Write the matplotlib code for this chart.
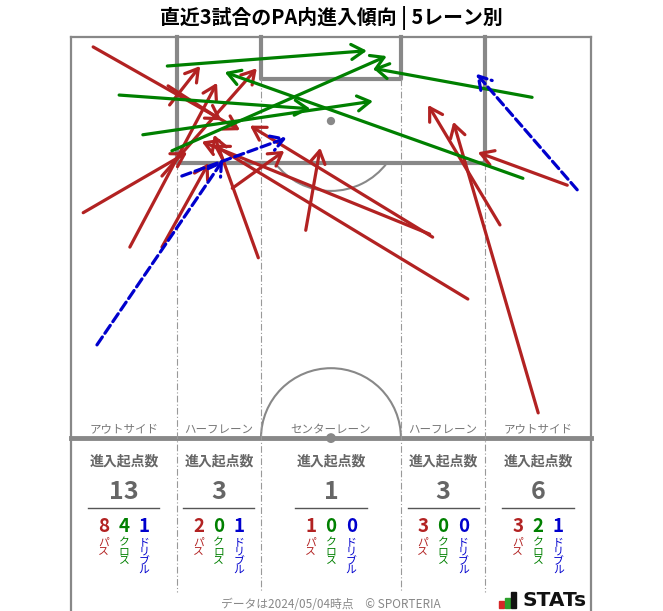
import matplotlib.pyplot as plt
from matplotlib.patches import FancyArrowPatch, Arc, Rectangle, Circle

plt.rcParams['font.family'] = ['Noto Sans CJK JP', 'DejaVu Sans']

# pitch coords in metres: x across (0-68), y down from goal line (0) to halfway (52.5)
pass_x0 = [2.9, 12.7, 7.7, 1.6, 11.9, 12.9, 11.9, 21.1, 24.5, 30.7, 47.3, 46.9, 51.9, 61.1, 56.1, 64.9]
pass_y0 = [1.3, 6.4, 27.5, 23.0, 27.5, 8.9, 18.2, 19.8, 28.9, 25.3, 26.2, 25.8, 34.3, 49.2, 24.6, 19.4]
pass_x1 = [22.1, 19.7, 19.1, 15.2, 18.0, 16.9, 24.3, 27.9, 18.7, 32.6, 23.4, 17.1, 18.6, 50.0, 46.7, 53.2]
pass_y1 = [12.2, 10.9, 6.0, 15.1, 16.5, 3.8, 4.1, 14.9, 12.8, 14.5, 11.6, 13.7, 14.1, 11.1, 8.9, 15.1]

cross_x0 = [12.6, 6.3, 9.4, 13.2, 60.3, 59.1]
cross_y0 = [3.8, 7.6, 12.8, 14.9, 7.9, 18.5]
cross_x1 = [38.7, 31.3, 39.5, 41.3, 39.5, 20.1]
cross_y1 = [1.8, 9.4, 8.4, 2.5, 4.1, 4.6]

dribble_x0 = [3.4, 14.5, 66.2]
dribble_y0 = [40.3, 18.2, 20.0]
dribble_x1 = [19.9, 28.2, 53.0]
dribble_y1 = [16.1, 13.2, 4.8]

lane_names = ["アウトサイド", "ハーフレーン", "センターレーン", "ハーフレーン", "アウトサイド"]
lane_edges = [0, 13.84, 24.84, 43.16, 54.16, 68]
lane_total = [13, 3, 1, 3, 6]
lane_pass = [8, 2, 1, 3, 3]
lane_cross = [4, 0, 0, 0, 2]
lane_dribble = [1, 1, 0, 0, 1]

RED = "#b22222"
GREEN = "#008000"
BLUE = "#0000cd"
LINE = "#888888"

fig = plt.figure(figsize=(6.63, 6.11), dpi=100)
ax = fig.add_axes([0, 0, 1, 1])
ax.set_xlim(-9.28, 77.42)
ax.set_ylim(75.13, -4.84)
ax.axis("off")

# pitch
bottom = 75.13
ax.plot([0, 0], [0, bottom], color=LINE, lw=1.6, zorder=1)
ax.plot([68, 68], [0, bottom], color=LINE, lw=1.6, zorder=1)
ax.plot([0, 68], [0, 0], color=LINE, lw=1.6, zorder=1)
ax.plot([0, 68], [52.5, 52.5], color=LINE, lw=3.5, zorder=1)
ax.plot([13.84, 13.84, 54.16, 54.16], [0, 16.5, 16.5, 0], color=LINE, lw=3, zorder=1)
ax.plot([24.84, 24.84, 43.16, 43.16], [0, 5.5, 5.5, 0], color=LINE, lw=3, zorder=1)
ax.add_patch(Arc((34, 11), 18.3, 18.3, theta1=37, theta2=143, color=LINE, lw=1.5, zorder=1))
ax.add_patch(Arc((34, 52.5), 18.3, 18.3, theta1=180, theta2=360, color=LINE, lw=1.5, zorder=1))
ax.add_patch(Circle((34, 11), 0.45, color=LINE, zorder=1))
ax.add_patch(Circle((34, 52.5), 0.55, color=LINE, zorder=1))

# lane lines
for x in lane_edges[1:-1]:
    top = 5.5 if x in (24.84, 43.16) else 16.5
    ax.plot([x, x], [top, 72.6], color="#999999", lw=0.8, ls=(0, (6, 2, 1, 2)), zorder=1)

for i, name in enumerate(lane_names):
    cx = (lane_edges[i] + lane_edges[i + 1]) / 2
    ax.text(cx, 51.3, name, ha="center", va="center", fontsize=8.3, color="#777777")


def draw_arrows(x0, y0, x1, y1, color, ls="-"):
    for a, b, c, d in zip(x0, y0, x1, y1):
        arr = FancyArrowPatch((a, b), (c, d), arrowstyle="->,head_length=0.5,head_width=0.3",
                              mutation_scale=18, color=color, lw=2.3, linestyle=ls,
                              shrinkA=0, shrinkB=0, zorder=3, capstyle="round")
        ax.add_patch(arr)


draw_arrows(pass_x0, pass_y0, pass_x1, pass_y1, RED)
draw_arrows(cross_x0, cross_y0, cross_x1, cross_y1, GREEN)
draw_arrows(dribble_x0, dribble_y0, dribble_x1, dribble_y1, BLUE, ls=(0, (3, 1.4)))

# lane stats
for i in range(5):
    cx = (lane_edges[i] + lane_edges[i + 1]) / 2
    ax.text(cx, 55.6, "進入起点数", ha="center", va="center", fontsize=10, fontweight="bold", color="#666666")
    ax.text(cx, 59.6, str(lane_total[i]), ha="center", va="center", fontsize=18, fontweight="bold", color="#666666")
    ax.plot([cx - 4.65, cx + 4.65], [61.6, 61.6], color="#555555", lw=1)
    vals = [lane_pass[i], lane_cross[i], lane_dribble[i]]
    labels = ["パス", "クロス", "ドリブル"]
    for j, (v, lab, col) in enumerate(zip(vals, labels, [RED, GREEN, BLUE])):
        xx = cx + (j - 1) * 2.65
        ax.text(xx, 64.1, str(v), ha="center", va="center", fontsize=13.5, fontweight="bold", color=col)
        ax.text(xx, 65.5, "\n".join(lab), ha="center", va="top", fontsize=7.8, color=col, linespacing=0.9)

fig.text(0.5, 1 - 18 / 611, "直近3試合のPA内進入傾向 | 5レーン別", ha="center", va="center",
         fontsize=14.3, fontweight="bold", color="black")
fig.text(331 / 663, 1 - 604 / 611, "データは2024/05/04時点　© SPORTERIA", ha="center", va="center",
         fontsize=8.5, color="#888888")

# STATs mark
for bx, bh, bc in [(499, 7, "#d62728"), (505, 10, "#2ca02c"), (511, 16, "#111111")]:
    fig.patches.append(Rectangle((bx / 663, (611 - 608) / 611), 4.5 / 663, bh / 611,
                                 transform=fig.transFigure, color=bc, figure=fig))
fig.text(522 / 663, 1 - 600 / 611, "STATs", ha="left", va="center", fontsize=14.5,
         fontweight="bold", color="#111111", family="DejaVu Sans")

fig.savefig("out.png", dpi=100)
